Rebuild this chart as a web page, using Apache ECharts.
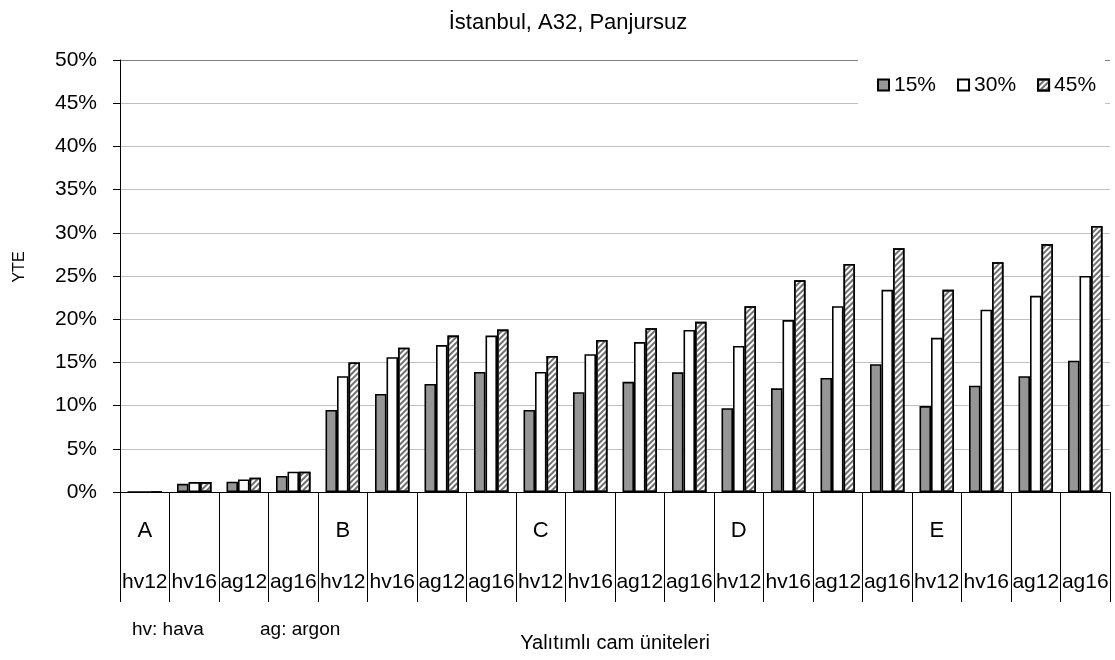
<!DOCTYPE html>
<html>
<head>
<meta charset="utf-8">
<script src="https://cdn.jsdelivr.net/npm/echarts@6/dist/echarts.min.js"></script>
<style>html,body{margin:0;padding:0;background:#fff}#c{width:1115px;height:660px}</style>
</head>
<body>
<div id="c"></div>
<script>
const groups = ['A', 'B', 'C', 'D', 'E'];
const units = ['hv12', 'hv16', 'ag12', 'ag16'];
const seriesNames = ['15%', '30%', '45%'];
const s15 = [0, 0.95, 1.2, 1.85, 9.5, 11.35, 12.5, 13.9, 9.5, 11.55, 12.75, 13.85, 9.7, 12.0, 13.2, 14.8, 9.95, 12.3, 13.4, 15.2];
const s30 = [0, 1.15, 1.45, 2.35, 13.4, 15.6, 17.0, 18.1, 13.9, 15.95, 17.35, 18.75, 16.9, 19.9, 21.5, 23.4, 17.85, 21.1, 22.7, 25.0];
const s45 = [0, 1.15, 1.65, 2.35, 15.0, 16.7, 18.1, 18.8, 15.75, 17.6, 18.95, 19.7, 21.5, 24.5, 26.4, 28.2, 23.4, 26.6, 28.7, 30.8];
const yTicks = [0, 5, 10, 15, 20, 25, 30, 35, 40, 45, 50];

const categories = [];
groups.forEach(g => units.forEach(u => categories.push(g + '-' + u)));

const FONT = "'Liberation Sans',Arial,sans-serif";

const chart = echarts.init(document.getElementById('c'), null, {renderer: 'canvas'});
const border = {borderColor: '#000', borderWidth: 1.6};
const gridColors = yTicks.map((t, i) => i === yTicks.length - 1 ? '#808080' : '#c0c0c0');

chart.setOption({
  animation: false,
  backgroundColor: '#fff',
  title: {
    text: 'İstanbul, A32, Panjursuz',
    left: 563, top: 7, textAlign: 'center',
    textStyle: {fontFamily: FONT, fontSize: 22, fontWeight: 'normal', color: '#000'}
  },
  legend: {
    data: seriesNames,
    left: 858, top: 60,
    padding: [13, 9, 7, 19],
    backgroundColor: '#fff',
    itemWidth: 11, itemHeight: 11, itemGap: 21,
    icon: 'rect',
    textStyle: {fontFamily: FONT, fontSize: 21, color: '#000', lineHeight: 24}
  },
  grid: {left: 120, right: 5, top: 60, bottom: 168, containLabel: false},
  xAxis: {
    type: 'category',
    data: categories,
    boundaryGap: true,
    name: 'Yalıtımlı cam üniteleri',
    nameLocation: 'middle',
    nameGap: 141,
    nameTextStyle: {fontFamily: FONT, fontSize: 20, color: '#000'},
    axisLine: {show: true, lineStyle: {color: '#000', width: 1}},
    axisTick: {show: true, interval: 0, length: 110, lineStyle: {color: '#000', width: 1}},
    axisLabel: {
      interval: 0, margin: 8, color: '#000',
      formatter: function (v, i) {
        const g = (i % units.length === 0) ? groups[Math.floor(i / units.length)] : ' ';
        return '{g|' + g + '}\n{l|' + units[i % units.length] + '}';
      },
      rich: {
        g: {fontFamily: FONT, fontSize: 22, lineHeight: 62, color: '#000'},
        l: {fontFamily: FONT, fontSize: 21, lineHeight: 40, color: '#000'}
      }
    },
    splitLine: {show: false}
  },
  yAxis: {
    type: 'value',
    min: 0, max: 50, interval: 5,
    axisLine: {show: true, lineStyle: {color: '#000', width: 1}},
    axisTick: {show: true, length: 7, lineStyle: {color: '#000'}},
    axisLabel: {formatter: '{value}%', fontFamily: FONT, fontSize: 21, color: '#000', margin: 23},
    splitLine: {show: true, lineStyle: {color: gridColors, width: 1.2}}
  },
  graphic: [
    {type: 'text', x: 20, y: 267, rotation: Math.PI / 2,
     style: {text: 'YTE', fontFamily: FONT, fontSize: 16, fill: '#000', align: 'center', verticalAlign: 'middle'}},
    {type: 'text', x: 132, y: 630,
     style: {text: 'hv: hava', fontFamily: FONT, fontSize: 19, fill: '#000', align: 'left', verticalAlign: 'middle'}},
    {type: 'text', x: 260, y: 630,
     style: {text: 'ag: argon', fontFamily: FONT, fontSize: 19, fill: '#000', align: 'left', verticalAlign: 'middle'}}
  ],
  series: [
    {name: seriesNames[0], type: 'bar', data: s15, barWidth: 11.5, barGap: '0%',
     itemStyle: Object.assign({color: '#969696'}, border)},
    {name: seriesNames[1], type: 'bar', data: s30, barWidth: 11.5, barGap: '0%',
     itemStyle: Object.assign({color: '#ffffff'}, border)},
    {name: seriesNames[2], type: 'bar', data: s45, barWidth: 11.5, barGap: '0%',
     itemStyle: Object.assign({color: '#ffffff',
       decal: {symbol: 'rect', symbolSize: 1, color: '#707070', dashArrayX: [1, 0], dashArrayY: [2, 2], rotation: -Math.PI / 4}
     }, border)}
  ]
});
</script>
</body>
</html>
